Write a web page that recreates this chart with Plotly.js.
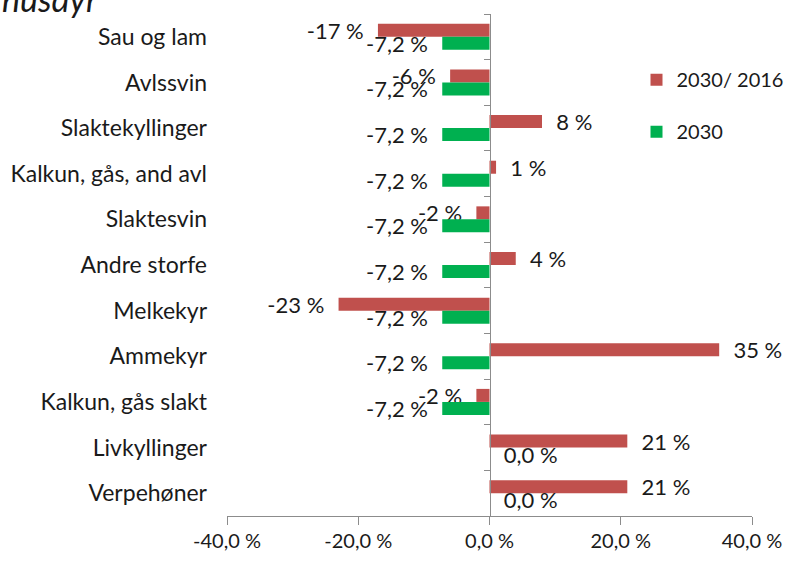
<!DOCTYPE html>
<html>
<head>
<meta charset="utf-8">
<script src="https://cdn.plot.ly/plotly-3.0.1.min.js"></script>
<style>html,body{margin:0;padding:0;background:#fff;}#chart{width:790px;height:561px;}</style>
</head>
<body>
<div id="chart"></div>
<script>
const categories = ['Sau og lam','Avlssvin','Slaktekyllinger','Kalkun, gås, and avl','Slaktesvin','Andre storfe','Melkekyr','Ammekyr','Kalkun, gås slakt','Livkyllinger','Verpehøner'];
const change2030vs2016 = [-17,-6,8,1,-2,4,-23,35,-2,21,21];
const value2030 = [-7.2,-7.2,-7.2,-7.2,-7.2,-7.2,-7.2,-7.2,-7.2,0,0];
const seriesNames = ['2030/ 2016','2030'];
const xTickVals = [-40,-20,0,20,40];
const xTickLabels = ['-40,0 %','-20,0 %','0,0 %','20,0 %','40,0 %'];
const titleText = 'husdyr';

const FONT = 'Lato, "Open Sans", sans-serif';
const axisGray = '#8c8c8c';
const TXT = '#1a1a1a';
const PAD = '\u00a0\u00a0';

function padLabel(v, s){ return v < 0 ? s + PAD : PAD + s; }
const redText = change2030vs2016.map(v => padLabel(v, v.toFixed(0) + ' %'));
const greenText = value2030.map(v => padLabel(v, v.toFixed(1).replace('.', ',') + ' %'));

const traces = [
  {
    type:'bar', orientation:'h', name:seriesNames[0],
    y:categories, x:change2030vs2016, text:redText,
    marker:{color:'#C0504D'},
    textposition:'outside', constraintext:'none', cliponaxis:false,
    textfont:{family:FONT,size:22,color:TXT},
    legendgroup:'a', hoverinfo:'x+y'
  },
  {
    type:'bar', orientation:'h', name:seriesNames[1],
    y:categories, x:value2030, text:greenText,
    marker:{color:'#00B050'},
    textposition:'outside', constraintext:'none', cliponaxis:false,
    textfont:{family:FONT,size:22,color:TXT},
    legendgroup:'b', hoverinfo:'x+y'
  },
  {
    type:'scatter', mode:'markers', y:categories, x:categories.map(()=>null),
    yaxis:'y2', showlegend:false, hoverinfo:'skip', marker:{opacity:0}
  }
];

const catRange = [categories.length - 0.5, -0.5];

const layout = {
  width:790, height:561,
  margin:{l:227, r:38, t:14, b:45, autoexpand:false},
  paper_bgcolor:'#fff', plot_bgcolor:'#fff',
  font:{family:FONT, size:18, color:TXT},
  barmode:'group', bargap:0.43, bargroupgap:0,
  showlegend:true,
  legend:{x:0.78, y:0.908, xanchor:'left', yanchor:'top',
          traceorder:'grouped', tracegroupgap:23,
          font:{family:FONT,size:20,color:TXT}, bgcolor:'rgba(0,0,0,0)'},
  xaxis:{range:[-40,40], tickvals:xTickVals, ticktext:xTickLabels, automargin:false,
         showline:true, linecolor:axisGray, linewidth:1, ticks:'outside', ticklen:8, tickcolor:axisGray,
         ticklabelstandoff:-1,
         showgrid:false, zeroline:false, tickfont:{family:FONT,size:20,color:TXT}},
  yaxis:{type:'category', categoryorder:'array', categoryarray:categories, range:catRange, autorange:false,
         automargin:false,
         showline:false, ticks:'', showgrid:false, zeroline:false, ticklabelstandoff:19,
         tickfont:{family:FONT,size:23,color:TXT}},
  yaxis2:{type:'category', categoryorder:'array', categoryarray:categories, range:catRange, autorange:false,
          automargin:false,
          overlaying:'y', anchor:'free', position:0.5, side:'left', showline:true, linecolor:axisGray, linewidth:1,
          ticks:'outside', ticklen:6, tickcolor:axisGray, tickson:'boundaries',
          showticklabels:false, showgrid:false, zeroline:false},
  annotations:[{text:'<i>' + titleText + '</i>', xref:'paper', yref:'paper', x:-0.432, y:1, xanchor:'left', yanchor:'middle',
                yshift:16, showarrow:false, font:{family:FONT,size:34,color:TXT}}]
};

Plotly.newPlot('chart', traces, layout, {displayModeBar:false, staticPlot:true});
</script>
</body>
</html>
